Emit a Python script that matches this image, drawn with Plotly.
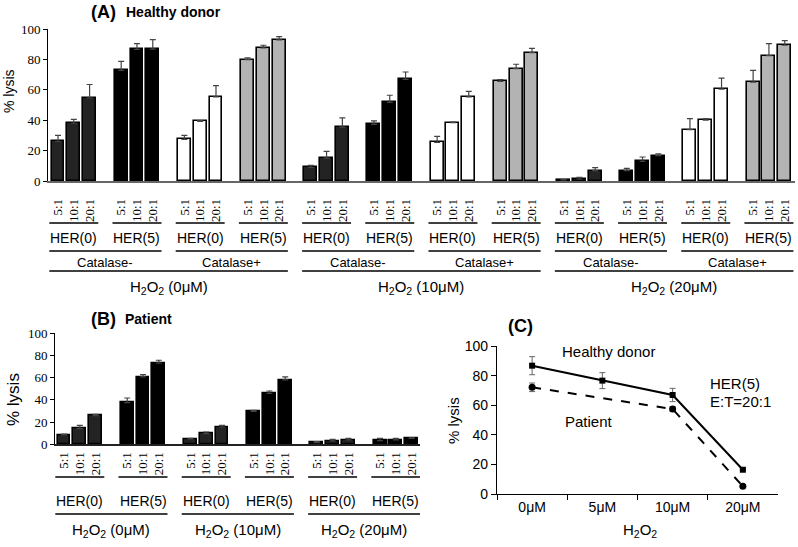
import plotly.graph_objects as go

W, H = 798, 547

# ---------------- data ----------------
ratios = ["5:1", "10:1", "20:1"]
h2o2_levels = ["0μM", "10μM", "20μM"]
her_labels = ["HER(0)", "HER(5)"]
catalase_labels = ["Catalase-", "Catalase+"]

# Panel A (healthy donor); each list: 0μM (5:1,10:1,20:1), 10μM (...), 20μM (...)
hd_catneg_her0 = [26.0, 38.0, 54.6, 9.0, 15.0, 35.4, 0.7, 1.3, 6.8]
hd_catneg_her0_err = [4.0, 2.6, 8.9, 1.3, 4.5, 6.1, 0.3, 1.1, 2.0]
hd_catneg_her5 = [72.8, 86.6, 86.8, 37.2, 51.7, 66.9, 6.8, 12.9, 16.7]
hd_catneg_her5_err = [5.9, 3.8, 6.2, 2.3, 4.7, 4.8, 1.5, 2.9, 1.1]
hd_catpos_her0 = [27.4, 39.2, 55.3, 25.4, 38.4, 55.3, 33.8, 40.1, 60.5]
hd_catpos_her0_err = [2.6, 0.5, 7.5, 4.0, 0.3, 3.6, 7.2, 0.9, 7.2]
hd_catpos_her5 = [79.8, 87.5, 92.9, 65.6, 73.9, 84.4, 65.0, 82.5, 89.3]
hd_catpos_her5_err = [1.2, 1.8, 2.1, 1.1, 2.9, 2.9, 7.8, 7.9, 3.1]

# Panel B (patient)
pt_her0 = [8.4, 14.1, 25.8, 4.8, 9.6, 15.6, 1.4, 3.0, 3.9]
pt_her0_err = [0.9, 3.0, 1.2, 0.6, 1.5, 1.5, 1.0, 1.5, 1.5]
pt_her5 = [37.5, 60.7, 73.0, 29.7, 45.9, 58.0, 3.3, 3.9, 5.4]
pt_her5_err = [4.2, 2.1, 2.7, 0.9, 2.1, 2.7, 2.1, 1.5, 0.4]

# Panel C (HER(5), E:T = 20:1)
c_conc = ["0μM", "5μM", "10μM", "20μM"]
c_healthy = [86.7, 76.6, 66.9, 16.4]
c_healthy_err = [6.1, 5.4, 4.5, 0.5]
c_patient = [72.1, None, 57.4, 5.2]
c_patient_err = [2.9, 0, 1.7, 0.5]

# ---------------- helpers ----------------
SERIF = "Liberation Serif, DejaVu Serif, Times New Roman, serif"
SANS = "Liberation Sans, Arial, sans-serif"


def px(x):
    return x / W


def py(y):
    return 1 - y / H


fig = go.Figure()

BAR_W = 0.82
ERR = dict(type="data", symmetric=False, color="#444", thickness=1.2, width=3)


def add_bars(xs, vals, errs, fill, xa, ya):
    fig.add_trace(go.Bar(
        x=xs, y=vals, width=BAR_W, xaxis=xa, yaxis=ya,
        marker=dict(color=fill, line=dict(color="black", width=1.6)),
        error_y=dict(ERR, array=errs, arrayminus=[0] * len(errs)),
        showlegend=False, hoverinfo="y",
    ))


# Panel A: group index g = h*4 + cat*2 + her ; bar x = 4*g + j
def a_pos(cat, her):
    return [4 * (h * 4 + cat * 2 + her) + j for h in range(3) for j in range(3)]


add_bars(a_pos(0, 0), hd_catneg_her0, hd_catneg_her0_err, "#232323", "x", "y")
add_bars(a_pos(0, 1), hd_catneg_her5, hd_catneg_her5_err, "#000000", "x", "y")
add_bars(a_pos(1, 0), hd_catpos_her0, hd_catpos_her0_err, "#ffffff", "x", "y")
add_bars(a_pos(1, 1), hd_catpos_her5, hd_catpos_her5_err, "#b3b3b3", "x", "y")

a_ticks = sorted(a_pos(0, 0) + a_pos(0, 1) + a_pos(1, 0) + a_pos(1, 1))
a_ticktext = [ratios[v % 4] for v in a_ticks]


# Panel B: group index g = h*2 + her
def b_pos(her):
    return [4 * (h * 2 + her) + j for h in range(3) for j in range(3)]


add_bars(b_pos(0), pt_her0, pt_her0_err, "#232323", "x2", "y2")
add_bars(b_pos(1), pt_her5, pt_her5_err, "#000000", "x2", "y2")
b_ticks = sorted(b_pos(0) + b_pos(1))
b_ticktext = [ratios[v % 4] for v in b_ticks]

# Panel C
fig.add_trace(go.Scatter(
    x=c_conc, y=c_healthy, xaxis="x3", yaxis="y3", mode="lines+markers",
    line=dict(color="black", width=2),
    marker=dict(symbol="square", size=6, color="black"),
    error_y=dict(type="data", array=c_healthy_err, color="#666", thickness=1, width=3),
    showlegend=False,
))
fig.add_trace(go.Scatter(
    x=c_conc, y=c_patient, xaxis="x3", yaxis="y3", mode="lines+markers",
    connectgaps=True,
    line=dict(color="black", width=2, dash="dash"),
    marker=dict(symbol="circle", size=7, color="black"),
    error_y=dict(type="data", array=c_patient_err, color="#666", thickness=1, width=3),
    showlegend=False,
))

# ---------------- shapes & annotations ----------------
shapes = []
ann = []


def hline(x0, x1, y, xref):
    shapes.append(dict(type="line", xref=xref, yref="paper", x0=x0, x1=x1,
                       y0=py(y), y1=py(y), line=dict(color="black", width=1.3)))


def label(text, x, y, xref, size, family=SANS, bold=False, xanchor="center"):
    if bold:
        text = "<b>" + text + "</b>"
    ann.append(dict(text=text, x=x, y=py(y), xref=xref, yref="paper",
                    xanchor=xanchor, yanchor="middle", showarrow=False,
                    font=dict(family=family, size=size, color="black")))


L, R = -0.55, 2.55
# Panel A hierarchy
for h in range(3):
    for cat in range(2):
        for her in range(2):
            g = h * 4 + cat * 2 + her
            hline(4 * g + L, 4 * g + R, 223, "x")
            label(her_labels[her], 4 * g + 1, 238, "x", 14)
        g0 = h * 4 + cat * 2
        hline(4 * g0 + L, 4 * (g0 + 1) + R, 251, "x")
        label(catalase_labels[cat], (4 * g0 + 4 * (g0 + 1) + 2) / 2, 262, "x", 13)
    g0 = h * 4
    hline(4 * g0 + L, 4 * (g0 + 3) + R, 271, "x")
    label("H<sub>2</sub>O<sub>2</sub> (" + h2o2_levels[h] + ")",
          (4 * g0 + 4 * (g0 + 3) + 2) / 2, 287, "x", 15)

# Panel B hierarchy
for h in range(3):
    for her in range(2):
        g = h * 2 + her
        hline(4 * g + L, 4 * g + R, 477, "x2")
        label(her_labels[her], 4 * g + 1, 501, "x2", 14)
    g0 = h * 2
    hline(4 * g0 + L, 4 * (g0 + 1) + R, 514, "x2")
    label("H<sub>2</sub>O<sub>2</sub> (" + h2o2_levels[h] + ")",
          (4 * g0 + 4 * (g0 + 1) + 2) / 2, 530, "x2", 15)

# titles
label("(A)", px(103), 12, "paper", 18, bold=True)
label("Healthy donor", px(124), 12, "paper", 14, bold=True, xanchor="left")
label("(B)", px(103), 319, "paper", 18, bold=True)
label("Patient", px(123), 319, "paper", 14, bold=True, xanchor="left")
label("(C)", px(520), 326, "paper", 18, bold=True)

# axis titles
for (x, y, s) in [(9, 91, 14), (13, 400, 17), (453, 421, 15)]:
    ann.append(dict(text="% lysis", x=px(x), y=py(y), xref="paper", yref="paper",
                    textangle=-90, showarrow=False, xanchor="center", yanchor="middle",
                    font=dict(family=SANS, size=s, color="black")))
label("H<sub>2</sub>O<sub>2</sub>", px(640), 530, "paper", 15)

# panel C annotations
label("Healthy donor", px(608), 351, "paper", 15)
label("Patient", px(589), 421, "paper", 15)
label("HER(5)", px(708), 383, "paper", 15, xanchor="left")
label("E:T=20:1", px(708), 401, "paper", 15, xanchor="left")

# ---------------- layout ----------------
serif_tick = dict(family=SERIF, size=13, color="black")
sans_tick = dict(family=SANS, size=14, color="black")

fig.update_layout(
    width=W, height=H,
    margin=dict(l=0, r=0, t=0, b=0, pad=0),
    paper_bgcolor="white", plot_bgcolor="white",
    template="none",
    bargap=0,
    shapes=shapes, annotations=ann,
    xaxis=dict(domain=[px(48), px(795)], range=[-0.633, 46.65],
               tickvals=a_ticks, ticktext=a_ticktext, tickangle=-90,
               ticks="", ticklabelstandoff=11, tickfont=serif_tick,
               showline=True, linecolor="#666", linewidth=1.5,
               showgrid=False, zeroline=False, anchor="y", automargin=False),
    yaxis=dict(domain=[py(181), py(29)], range=[0, 100],
               tickvals=[0, 20, 40, 60, 80, 100], ticks="outside", ticklen=4,
               tickcolor="black", tickfont=serif_tick,
               showline=True, linecolor="black", linewidth=1,
               showgrid=False, zeroline=False, anchor="x", automargin=False),
    xaxis2=dict(domain=[px(55), px(420)], range=[-0.57, 22.53],
                tickvals=b_ticks, ticktext=b_ticktext, tickangle=-90,
                ticks="", ticklabelstandoff=1, tickfont=serif_tick,
                showline=True, linecolor="#222", linewidth=1.5,
                showgrid=False, zeroline=False, anchor="y2", automargin=False),
    yaxis2=dict(domain=[py(444.3), py(333.3)], range=[0, 100],
                tickvals=[0, 20, 40, 60, 80, 100], ticks="outside", ticklen=4,
                tickcolor="black", tickfont=serif_tick,
                showline=True, linecolor="black", linewidth=1,
                showgrid=False, zeroline=False, anchor="x2", automargin=False),
    xaxis3=dict(domain=[px(497), px(778)], range=[-0.5, 3.5],
                type="category", tickson="boundaries", ticks="outside", ticklen=5,
                tickcolor="black", tickfont=sans_tick,
                showline=True, linecolor="black", linewidth=1.2,
                showgrid=False, zeroline=False, anchor="y3", automargin=False),
    yaxis3=dict(domain=[py(494), py(346)], range=[0, 100],
                tickvals=[0, 20, 40, 60, 80, 100], ticks="outside", ticklen=5,
                tickcolor="black", tickfont=sans_tick,
                showline=True, linecolor="black", linewidth=1.2,
                showgrid=False, zeroline=False, anchor="x3", automargin=False),
)

fig.write_html(
    "out.html",
    config={"displayModeBar": False},
    post_script="document.body.style.margin='0px';document.body.style.overflow='hidden';",
)
